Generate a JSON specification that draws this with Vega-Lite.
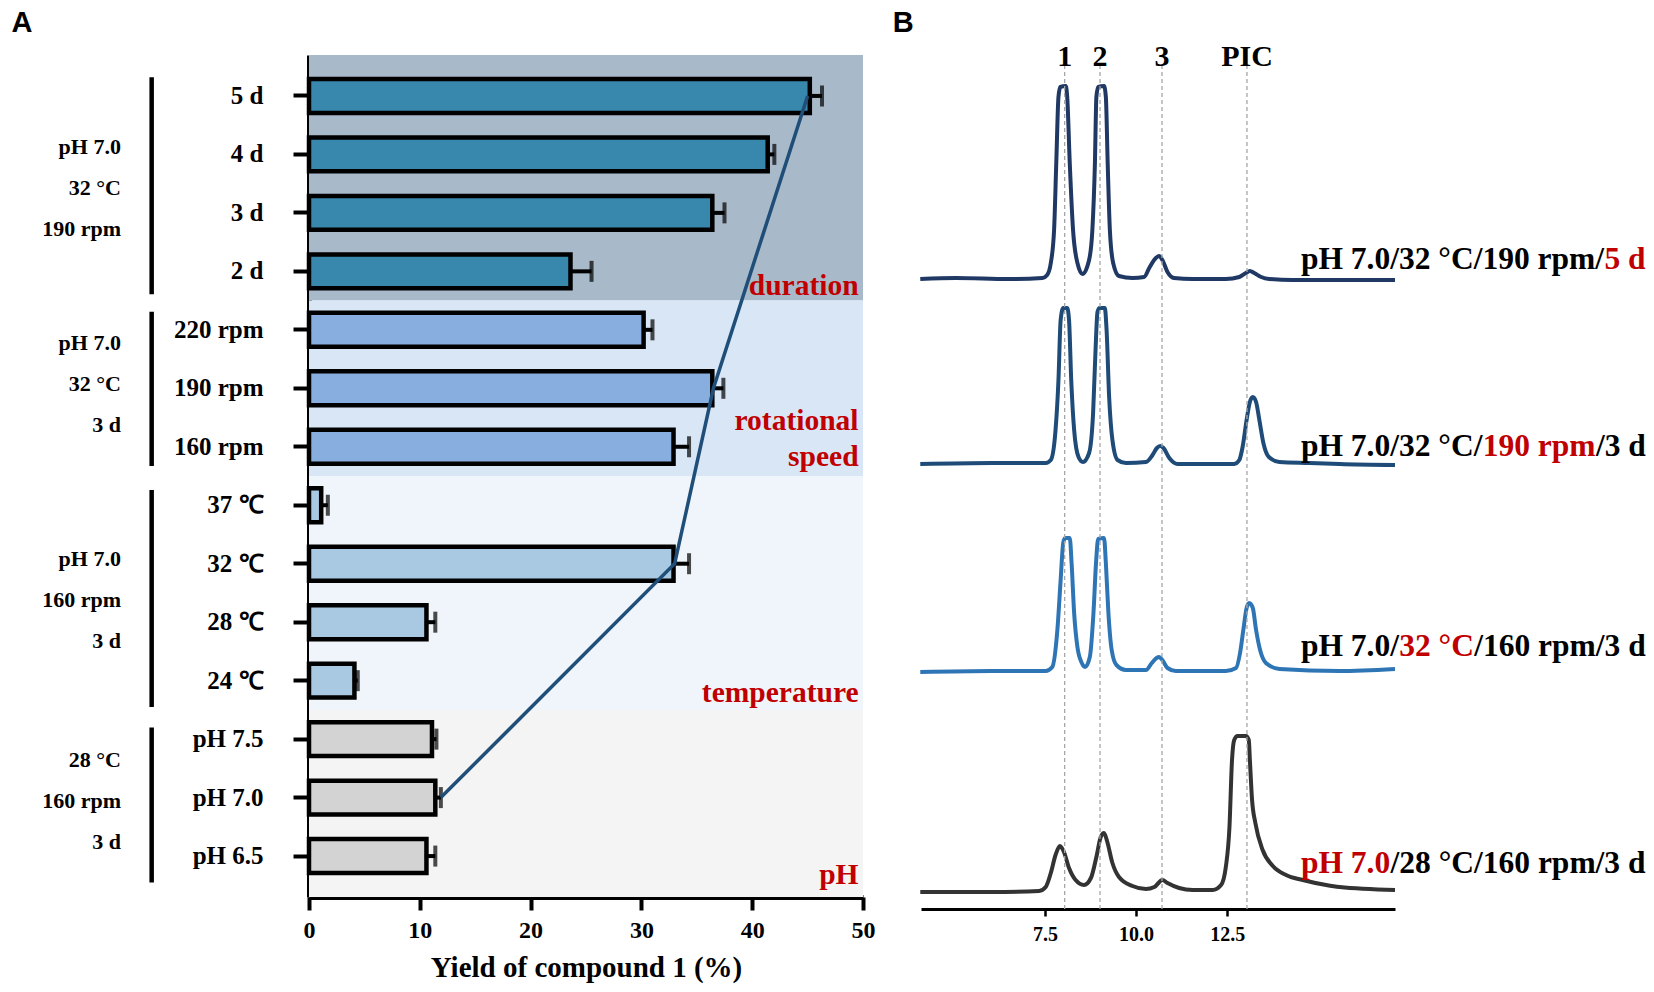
{
  "$schema": "https://vega.github.io/schema/vega-lite/v6.json",
  "background": "white",
  "padding": {"left": 11, "top": 8, "right": 3, "bottom": 5},
  "spacing": 17,
  "config": {
    "view": {"stroke": null},
    "font": "Liberation Serif",
    "axis": {"grid": false, "labelColor": "#000", "tickColor": "#000", "domainColor": "#000", "titleColor": "#000", "labelFont": "Liberation Serif", "titleFont": "Liberation Serif", "labelFontWeight": "bold", "titleFontWeight": "bold", "labelFlush": false, "labelOverlap": false, "labelLimit": 0}
  },
  "datasets": {
    "bars": [
      {"cond": "5 d", "grp": "duration", "yield": 45.2, "hi": 46.3},
      {"cond": "4 d", "grp": "duration", "yield": 41.4, "hi": 42.0},
      {"cond": "3 d", "grp": "duration", "yield": 36.4, "hi": 37.5},
      {"cond": "2 d", "grp": "duration", "yield": 23.6, "hi": 25.5},
      {"cond": "220 rpm", "grp": "rpm", "yield": 30.2, "hi": 31.0},
      {"cond": "190 rpm", "grp": "rpm", "yield": 36.4, "hi": 37.4},
      {"cond": "160 rpm", "grp": "rpm", "yield": 32.9, "hi": 34.3},
      {"cond": "37 ℃", "grp": "temperature", "yield": 1.1, "hi": 1.7},
      {"cond": "32 ℃", "grp": "temperature", "yield": 32.9, "hi": 34.3},
      {"cond": "28 ℃", "grp": "temperature", "yield": 10.6, "hi": 11.4},
      {"cond": "24 ℃", "grp": "temperature", "yield": 4.1, "hi": 4.4},
      {"cond": "pH 7.5", "grp": "pH", "yield": 11.1, "hi": 11.5},
      {"cond": "pH 7.0", "grp": "pH", "yield": 11.4, "hi": 11.9},
      {"cond": "pH 6.5", "grp": "pH", "yield": 10.6, "hi": 11.4}
    ],
    "optline": [
      {"cond": "5 d", "yield": 45.0},
      {"cond": "190 rpm", "yield": 36.5},
      {"cond": "32 ℃", "yield": 33.0},
      {"cond": "pH 7.0", "yield": 11.9}
    ],
    "regions": [
      {"region": "duration", "top": -0.7, "bottom": 3.5},
      {"region": "rotational speed", "top": 3.5, "bottom": 6.5},
      {"region": "temperature", "top": 6.5, "bottom": 10.5},
      {"region": "pH", "top": 10.5, "bottom": 13.7}
    ],
    "regionLabels": [
      {"label": "duration", "ly": 3.25},
      {"label": "rotational", "ly": 5.56},
      {"label": "speed", "ly": 6.17},
      {"label": "temperature", "ly": 10.21},
      {"label": "pH", "ly": 13.32}
    ],
    "groups": [
      {"lines": ["pH 7.0", "32 °C", "190 rpm"], "top": -0.32, "bottom": 3.39, "first": 0.87},
      {"lines": ["pH 7.0", "32 °C", "3 d"], "top": 3.69, "bottom": 6.33, "first": 4.22},
      {"lines": ["pH 7.0", "160 rpm", "3 d"], "top": 6.74, "bottom": 10.45, "first": 7.92},
      {"lines": ["28 °C", "160 rpm", "3 d"], "top": 10.8, "bottom": 13.45, "first": 11.35}
    ],
    "peaks": [
      {"peak": "1", "t": 8.04},
      {"peak": "2", "t": 9.01},
      {"peak": "3", "t": 10.71},
      {"peak": "PIC", "t": 13.04}
    ],
    "traces": [
      {"trace": "5 d", "t": 4.08, "v": 630}, {"trace": "5 d", "t": 5.05, "v": 631}, {"trace": "5 d", "t": 6.51, "v": 630},
      {"trace": "5 d", "t": 7.43, "v": 631}, {"trace": "5 d", "t": 7.56, "v": 634}, {"trace": "5 d", "t": 7.66, "v": 646},
      {"trace": "5 d", "t": 7.75, "v": 679}, {"trace": "5 d", "t": 7.81, "v": 746}, {"trace": "5 d", "t": 7.87, "v": 812},
      {"trace": "5 d", "t": 7.92, "v": 822}, {"trace": "5 d", "t": 8.07, "v": 823}, {"trace": "5 d", "t": 8.11, "v": 812},
      {"trace": "5 d", "t": 8.18, "v": 746}, {"trace": "5 d", "t": 8.27, "v": 679}, {"trace": "5 d", "t": 8.39, "v": 646},
      {"trace": "5 d", "t": 8.53, "v": 635}, {"trace": "5 d", "t": 8.71, "v": 649}, {"trace": "5 d", "t": 8.80, "v": 679},
      {"trace": "5 d", "t": 8.87, "v": 746}, {"trace": "5 d", "t": 8.91, "v": 812}, {"trace": "5 d", "t": 8.96, "v": 822},
      {"trace": "5 d", "t": 9.12, "v": 823}, {"trace": "5 d", "t": 9.17, "v": 812}, {"trace": "5 d", "t": 9.22, "v": 746},
      {"trace": "5 d", "t": 9.28, "v": 679}, {"trace": "5 d", "t": 9.37, "v": 646}, {"trace": "5 d", "t": 9.53, "v": 633},
      {"trace": "5 d", "t": 9.90, "v": 631}, {"trace": "5 d", "t": 10.22, "v": 632}, {"trace": "5 d", "t": 10.36, "v": 641},
      {"trace": "5 d", "t": 10.54, "v": 651}, {"trace": "5 d", "t": 10.63, "v": 653}, {"trace": "5 d", "t": 10.72, "v": 649},
      {"trace": "5 d", "t": 10.86, "v": 637}, {"trace": "5 d", "t": 11.04, "v": 631}, {"trace": "5 d", "t": 11.55, "v": 630},
      {"trace": "5 d", "t": 12.46, "v": 630}, {"trace": "5 d", "t": 12.83, "v": 632}, {"trace": "5 d", "t": 13.01, "v": 636},
      {"trace": "5 d", "t": 13.12, "v": 638}, {"trace": "5 d", "t": 13.24, "v": 636}, {"trace": "5 d", "t": 13.43, "v": 632},
      {"trace": "5 d", "t": 13.65, "v": 630}, {"trace": "5 d", "t": 14.30, "v": 629}, {"trace": "5 d", "t": 15.58, "v": 629},
      {"trace": "5 d", "t": 17.10, "v": 629},

      {"trace": "190 rpm", "t": 4.08, "v": 445}, {"trace": "190 rpm", "t": 6.05, "v": 446}, {"trace": "190 rpm", "t": 7.52, "v": 446},
      {"trace": "190 rpm", "t": 7.66, "v": 449}, {"trace": "190 rpm", "t": 7.79, "v": 479}, {"trace": "190 rpm", "t": 7.87, "v": 529},
      {"trace": "190 rpm", "t": 7.93, "v": 589}, {"trace": "190 rpm", "t": 8.00, "v": 601}, {"trace": "190 rpm", "t": 8.11, "v": 601},
      {"trace": "190 rpm", "t": 8.16, "v": 589}, {"trace": "190 rpm", "t": 8.22, "v": 529}, {"trace": "190 rpm", "t": 8.30, "v": 479},
      {"trace": "190 rpm", "t": 8.42, "v": 452}, {"trace": "190 rpm", "t": 8.54, "v": 447}, {"trace": "190 rpm", "t": 8.71, "v": 456},
      {"trace": "190 rpm", "t": 8.82, "v": 496}, {"trace": "190 rpm", "t": 8.89, "v": 562}, {"trace": "190 rpm", "t": 8.94, "v": 597},
      {"trace": "190 rpm", "t": 9.00, "v": 601}, {"trace": "190 rpm", "t": 9.14, "v": 601}, {"trace": "190 rpm", "t": 9.19, "v": 579},
      {"trace": "190 rpm", "t": 9.26, "v": 512}, {"trace": "190 rpm", "t": 9.35, "v": 469}, {"trace": "190 rpm", "t": 9.49, "v": 449},
      {"trace": "190 rpm", "t": 9.72, "v": 446}, {"trace": "190 rpm", "t": 10.27, "v": 447}, {"trace": "190 rpm", "t": 10.45, "v": 454},
      {"trace": "190 rpm", "t": 10.57, "v": 461}, {"trace": "190 rpm", "t": 10.66, "v": 463}, {"trace": "190 rpm", "t": 10.75, "v": 461},
      {"trace": "190 rpm", "t": 10.91, "v": 451}, {"trace": "190 rpm", "t": 11.14, "v": 445}, {"trace": "190 rpm", "t": 12.01, "v": 445},
      {"trace": "190 rpm", "t": 12.69, "v": 445}, {"trace": "190 rpm", "t": 12.83, "v": 449}, {"trace": "190 rpm", "t": 12.92, "v": 462},
      {"trace": "190 rpm", "t": 13.03, "v": 489}, {"trace": "190 rpm", "t": 13.12, "v": 507}, {"trace": "190 rpm", "t": 13.20, "v": 512},
      {"trace": "190 rpm", "t": 13.29, "v": 507}, {"trace": "190 rpm", "t": 13.38, "v": 489}, {"trace": "190 rpm", "t": 13.49, "v": 466},
      {"trace": "190 rpm", "t": 13.64, "v": 452}, {"trace": "190 rpm", "t": 13.93, "v": 447}, {"trace": "190 rpm", "t": 14.75, "v": 446},
      {"trace": "190 rpm", "t": 15.58, "v": 445}, {"trace": "190 rpm", "t": 17.10, "v": 444},

      {"trace": "32 °C", "t": 4.08, "v": 237}, {"trace": "32 °C", "t": 6.05, "v": 238}, {"trace": "32 °C", "t": 7.52, "v": 238},
      {"trace": "32 °C", "t": 7.70, "v": 242}, {"trace": "32 °C", "t": 7.84, "v": 279}, {"trace": "32 °C", "t": 7.93, "v": 329},
      {"trace": "32 °C", "t": 8.00, "v": 366}, {"trace": "32 °C", "t": 8.05, "v": 371}, {"trace": "32 °C", "t": 8.18, "v": 371},
      {"trace": "32 °C", "t": 8.23, "v": 346}, {"trace": "32 °C", "t": 8.30, "v": 296}, {"trace": "32 °C", "t": 8.39, "v": 262},
      {"trace": "32 °C", "t": 8.51, "v": 246}, {"trace": "32 °C", "t": 8.60, "v": 242}, {"trace": "32 °C", "t": 8.73, "v": 252},
      {"trace": "32 °C", "t": 8.83, "v": 296}, {"trace": "32 °C", "t": 8.90, "v": 346}, {"trace": "32 °C", "t": 8.96, "v": 370},
      {"trace": "32 °C", "t": 9.12, "v": 371}, {"trace": "32 °C", "t": 9.17, "v": 346}, {"trace": "32 °C", "t": 9.24, "v": 296},
      {"trace": "32 °C", "t": 9.33, "v": 259}, {"trace": "32 °C", "t": 9.46, "v": 244}, {"trace": "32 °C", "t": 9.72, "v": 239},
      {"trace": "32 °C", "t": 10.27, "v": 239}, {"trace": "32 °C", "t": 10.43, "v": 246}, {"trace": "32 °C", "t": 10.56, "v": 251},
      {"trace": "32 °C", "t": 10.63, "v": 252}, {"trace": "32 °C", "t": 10.72, "v": 249}, {"trace": "32 °C", "t": 10.86, "v": 241},
      {"trace": "32 °C", "t": 11.09, "v": 238}, {"trace": "32 °C", "t": 12.46, "v": 238}, {"trace": "32 °C", "t": 12.74, "v": 241},
      {"trace": "32 °C", "t": 12.85, "v": 256}, {"trace": "32 °C", "t": 12.94, "v": 279}, {"trace": "32 °C", "t": 13.03, "v": 301},
      {"trace": "32 °C", "t": 13.10, "v": 306}, {"trace": "32 °C", "t": 13.20, "v": 301}, {"trace": "32 °C", "t": 13.29, "v": 279},
      {"trace": "32 °C", "t": 13.40, "v": 259}, {"trace": "32 °C", "t": 13.56, "v": 246}, {"trace": "32 °C", "t": 13.93, "v": 240},
      {"trace": "32 °C", "t": 15.58, "v": 238}, {"trace": "32 °C", "t": 17.10, "v": 240},

      {"trace": "pH 7.0", "t": 4.08, "v": 17}, {"trace": "pH 7.0", "t": 6.05, "v": 17}, {"trace": "pH 7.0", "t": 7.34, "v": 18},
      {"trace": "pH 7.0", "t": 7.52, "v": 22}, {"trace": "pH 7.0", "t": 7.66, "v": 36}, {"trace": "pH 7.0", "t": 7.79, "v": 54},
      {"trace": "pH 7.0", "t": 7.91, "v": 63}, {"trace": "pH 7.0", "t": 8.02, "v": 57}, {"trace": "pH 7.0", "t": 8.16, "v": 41},
      {"trace": "pH 7.0", "t": 8.34, "v": 29}, {"trace": "pH 7.0", "t": 8.57, "v": 24}, {"trace": "pH 7.0", "t": 8.76, "v": 31},
      {"trace": "pH 7.0", "t": 8.91, "v": 52}, {"trace": "pH 7.0", "t": 9.03, "v": 72}, {"trace": "pH 7.0", "t": 9.12, "v": 76},
      {"trace": "pH 7.0", "t": 9.21, "v": 67}, {"trace": "pH 7.0", "t": 9.35, "v": 46}, {"trace": "pH 7.0", "t": 9.53, "v": 32},
      {"trace": "pH 7.0", "t": 9.90, "v": 23}, {"trace": "pH 7.0", "t": 10.27, "v": 20}, {"trace": "pH 7.0", "t": 10.50, "v": 22},
      {"trace": "pH 7.0", "t": 10.72, "v": 29}, {"trace": "pH 7.0", "t": 10.86, "v": 26}, {"trace": "pH 7.0", "t": 11.18, "v": 21},
      {"trace": "pH 7.0", "t": 11.55, "v": 19}, {"trace": "pH 7.0", "t": 12.10, "v": 19}, {"trace": "pH 7.0", "t": 12.33, "v": 24},
      {"trace": "pH 7.0", "t": 12.46, "v": 42}, {"trace": "pH 7.0", "t": 12.56, "v": 82}, {"trace": "pH 7.0", "t": 12.63, "v": 149},
      {"trace": "pH 7.0", "t": 12.69, "v": 169}, {"trace": "pH 7.0", "t": 12.78, "v": 173}, {"trace": "pH 7.0", "t": 13.01, "v": 173},
      {"trace": "pH 7.0", "t": 13.09, "v": 169}, {"trace": "pH 7.0", "t": 13.12, "v": 149}, {"trace": "pH 7.0", "t": 13.18, "v": 109},
      {"trace": "pH 7.0", "t": 13.27, "v": 86}, {"trace": "pH 7.0", "t": 13.47, "v": 59}, {"trace": "pH 7.0", "t": 13.75, "v": 43},
      {"trace": "pH 7.0", "t": 14.11, "v": 34}, {"trace": "pH 7.0", "t": 14.57, "v": 29}, {"trace": "pH 7.0", "t": 15.21, "v": 24},
      {"trace": "pH 7.0", "t": 15.58, "v": 22}, {"trace": "pH 7.0", "t": 17.10, "v": 19}
    ]
  },
  "hconcat": [
    {
      "width": 554,
      "height": 842,
      "layer": [
        {
          "layer": [
            {
              "data": {"name": "regions"},
              "mark": {"type": "rect"},
              "encoding": {
                "x": {"datum": 0, "type": "quantitative", "scale": {"domain": [0, 50], "nice": false}, "axis": null},
                "x2": {"datum": 50},
                "y": {"field": "top", "type": "quantitative", "scale": {"domain": [-0.7, 13.7], "reverse": true, "nice": false, "zero": false}, "axis": null},
                "y2": {"field": "bottom"},
                "color": {"field": "region", "type": "nominal", "scale": {"domain": ["duration", "rotational speed", "temperature", "pH"], "range": ["#a8b9ca", "#d8e6f5", "#f0f5fb", "#f4f4f4"]}, "legend": null}
              }
            },
            {
              "data": {"name": "regionLabels"},
              "mark": {"type": "text", "align": "right", "baseline": "middle", "fontSize": 29.5, "fontWeight": "bold", "font": "Liberation Serif", "color": "#c00000"},
              "encoding": {
                "x": {"datum": 49.6, "type": "quantitative", "axis": null},
                "y": {"field": "ly", "type": "quantitative", "axis": null},
                "text": {"field": "label"}
              }
            },
            {
              "data": {"name": "groups"},
              "mark": {"type": "rule", "strokeWidth": 4.5, "color": "#000"},
              "encoding": {
                "x": {"datum": -14.2, "type": "quantitative", "axis": null},
                "y": {"field": "top", "type": "quantitative", "axis": null},
                "y2": {"field": "bottom"}
              }
            },
            {
              "data": {"name": "groups"},
              "mark": {"type": "text", "align": "right", "baseline": "middle", "fontSize": 22, "fontWeight": "bold", "font": "Liberation Serif", "lineHeight": 41, "color": "#000"},
              "encoding": {
                "x": {"datum": -16.97, "type": "quantitative", "axis": null},
                "y": {"field": "first", "type": "quantitative", "axis": null},
                "text": {"field": "lines"}
              }
            },
            {
              "data": {"values": [{"panel": "A"}]},
              "mark": {"type": "text", "align": "center", "baseline": "middle", "fontSize": 29, "fontWeight": "bold", "font": "Liberation Sans", "color": "#000"},
              "encoding": {
                "x": {"datum": -25.9, "type": "quantitative", "axis": null},
                "y": {"datum": -1.25, "type": "quantitative", "axis": null},
                "text": {"field": "panel"}
              }
            }
          ]
        },
        {
          "data": {"name": "bars"},
          "layer": [
            {
              "mark": {"type": "bar", "stroke": "#000", "strokeWidth": 4.5},
              "encoding": {
                "x": {"field": "yield", "type": "quantitative", "title": "Yield of compound 1 (%)", "scale": {"domain": [0, 50], "nice": false},
                  "axis": {"values": [0, 10, 20, 30, 40, 50], "labelFontSize": 24, "labelPadding": 8, "tickSize": 13, "tickWidth": 4, "domainWidth": 5, "titleFontSize": 29, "titlePadding": 11}},
                "y": {"field": "cond", "type": "nominal", "title": null,
                  "scale": {"type": "band", "domain": ["5 d", "4 d", "3 d", "2 d", "220 rpm", "190 rpm", "160 rpm", "37 ℃", "32 ℃", "28 ℃", "24 ℃", "pH 7.5", "pH 7.0", "pH 6.5"], "paddingInner": 0.42, "paddingOuter": 0.41},
                  "axis": {"labelFontSize": 25, "labelPadding": 30, "tickSize": 16, "tickWidth": 4, "domainWidth": 5}},
                "color": {"field": "grp", "type": "nominal", "scale": {"domain": ["duration", "rpm", "temperature", "pH"], "range": ["#3887ad", "#87aede", "#a9c9e2", "#d3d3d3"]}, "legend": null}
              }
            },
            {
              "mark": {"type": "rule", "strokeWidth": 4, "color": "#000"},
              "encoding": {
                "x": {"field": "yield", "type": "quantitative", "title": "Yield of compound 1 (%)"},
                "x2": {"field": "hi"},
                "y": {"field": "cond", "type": "nominal", "title": null}
              }
            },
            {
              "mark": {"type": "tick", "thickness": 4, "size": 21, "color": "#000"},
              "encoding": {
                "x": {"field": "hi", "type": "quantitative", "title": "Yield of compound 1 (%)"},
                "y": {"field": "cond", "type": "nominal", "title": null}
              }
            },
            {
              "data": {"name": "optline"},
              "mark": {"type": "line", "color": "#1f4e79", "strokeWidth": 3.5},
              "encoding": {
                "x": {"field": "yield", "type": "quantitative", "title": "Yield of compound 1 (%)"},
                "y": {"field": "cond", "type": "nominal", "title": null}
              }
            }
          ]
        }
      ],
      "resolve": {"scale": {"x": "independent", "y": "independent", "color": "independent"}}
    },
    {
      "width": 474,
      "height": 854,
      "resolve": {"axis": {"x": "independent"}},
      "layer": [
        {
          "data": {"name": "traces"},
          "mark": {"type": "line", "strokeWidth": 4, "interpolate": "monotone"},
          "encoding": {
            "x": {"field": "t", "type": "quantitative", "title": null, "scale": {"domain": [4.1, 17.1], "nice": false, "zero": false},
              "axis": {"values": [7.5, 10, 12.5], "format": ".1f", "title": null, "labelFontSize": 20, "labelPadding": 8, "tickSize": 7, "tickWidth": 2.5, "domainWidth": 3}},
            "y": {"field": "v", "type": "quantitative", "title": null, "scale": {"domain": [0, 854], "nice": false, "zero": false}, "axis": null},
            "color": {"field": "trace", "type": "nominal", "scale": {"domain": ["5 d", "190 rpm", "32 °C", "pH 7.0"], "range": ["#1f3864", "#1e4b78", "#2e75b6", "#333333"]}, "legend": null}
          }
        },
        {
          "data": {"name": "peaks"},
          "mark": {"type": "rule", "color": "#a6a6a6", "strokeWidth": 1.3, "strokeDash": [4, 3]},
          "encoding": {
            "x": {"field": "t", "type": "quantitative", "title": null, "axis": null},
            "y": {"datum": 0, "type": "quantitative", "axis": null},
            "y2": {"datum": 844}
          }
        },
        {
          "data": {"name": "peaks"},
          "mark": {"type": "text", "align": "center", "baseline": "middle", "fontSize": 30, "fontWeight": "bold", "font": "Liberation Serif", "color": "#000"},
          "encoding": {
            "x": {"field": "t", "type": "quantitative", "title": null, "axis": null},
            "y": {"datum": 852, "type": "quantitative", "axis": null},
            "text": {"field": "peak"}
          }
        },
        {
          "data": {"values": [
            {"text": "pH 7.0/32 °C/190 rpm/", "v": 649},
            {"text": "pH 7.0/32 °C/", "v": 462},
            {"text": "pH 7.0/", "v": 262}
          ]},
          "mark": {"type": "text", "align": "left", "baseline": "middle", "fontSize": 31.5, "fontWeight": "bold", "font": "Liberation Serif", "color": "#000"},
          "encoding": {
            "x": {"datum": 14.52, "type": "quantitative", "axis": null},
            "y": {"field": "v", "type": "quantitative", "title": null, "axis": null},
            "text": {"field": "text"}
          }
        },
        {
          "data": {"values": [{"text": "pH 7.0", "v": 45}]},
          "mark": {"type": "text", "align": "left", "baseline": "middle", "fontSize": 31.5, "fontWeight": "bold", "font": "Liberation Serif", "color": "#c00000"},
          "encoding": {
            "x": {"datum": 14.52, "type": "quantitative", "axis": null},
            "y": {"field": "v", "type": "quantitative", "title": null, "axis": null},
            "text": {"field": "text"}
          }
        },
        {
          "data": {"values": [{"text": "5 d", "v": 649}]},
          "mark": {"type": "text", "align": "left", "baseline": "middle", "fontSize": 31.5, "fontWeight": "bold", "font": "Liberation Serif", "color": "#c00000", "dx": 303.5},
          "encoding": {
            "x": {"datum": 14.52, "type": "quantitative", "axis": null},
            "y": {"field": "v", "type": "quantitative", "title": null, "axis": null},
            "text": {"field": "text"}
          }
        },
        {
          "data": {"values": [{"text": "190 rpm", "v": 462}]},
          "mark": {"type": "text", "align": "left", "baseline": "middle", "fontSize": 31.5, "fontWeight": "bold", "font": "Liberation Serif", "color": "#c00000", "dx": 181.8},
          "encoding": {
            "x": {"datum": 14.52, "type": "quantitative", "axis": null},
            "y": {"field": "v", "type": "quantitative", "title": null, "axis": null},
            "text": {"field": "text"}
          }
        },
        {
          "data": {"values": [{"text": "/3 d", "v": 462}]},
          "mark": {"type": "text", "align": "left", "baseline": "middle", "fontSize": 31.5, "fontWeight": "bold", "font": "Liberation Serif", "color": "#000", "dx": 295},
          "encoding": {
            "x": {"datum": 14.52, "type": "quantitative", "axis": null},
            "y": {"field": "v", "type": "quantitative", "title": null, "axis": null},
            "text": {"field": "text"}
          }
        },
        {
          "data": {"values": [{"text": "32 °C", "v": 262}]},
          "mark": {"type": "text", "align": "left", "baseline": "middle", "fontSize": 31.5, "fontWeight": "bold", "font": "Liberation Serif", "color": "#c00000", "dx": 98.3},
          "encoding": {
            "x": {"datum": 14.52, "type": "quantitative", "axis": null},
            "y": {"field": "v", "type": "quantitative", "title": null, "axis": null},
            "text": {"field": "text"}
          }
        },
        {
          "data": {"values": [{"text": "/160 rpm/3 d", "v": 262}]},
          "mark": {"type": "text", "align": "left", "baseline": "middle", "fontSize": 31.5, "fontWeight": "bold", "font": "Liberation Serif", "color": "#000", "dx": 173.3},
          "encoding": {
            "x": {"datum": 14.52, "type": "quantitative", "axis": null},
            "y": {"field": "v", "type": "quantitative", "title": null, "axis": null},
            "text": {"field": "text"}
          }
        },
        {
          "data": {"values": [{"text": "/28 °C/160 rpm/3 d", "v": 45}]},
          "mark": {"type": "text", "align": "left", "baseline": "middle", "fontSize": 31.5, "fontWeight": "bold", "font": "Liberation Serif", "color": "#000", "dx": 89.6},
          "encoding": {
            "x": {"datum": 14.52, "type": "quantitative", "axis": null},
            "y": {"field": "v", "type": "quantitative", "title": null, "axis": null},
            "text": {"field": "text"}
          }
        },
        {
          "data": {"values": [{"panel": "B"}]},
          "mark": {"type": "text", "align": "center", "baseline": "middle", "fontSize": 29, "fontWeight": "bold", "font": "Liberation Sans", "color": "#000"},
          "encoding": {
            "x": {"datum": 3.61, "type": "quantitative", "axis": null},
            "y": {"datum": 886, "type": "quantitative", "axis": null},
            "text": {"field": "panel"}
          }
        }
      ]
    }
  ]
}
